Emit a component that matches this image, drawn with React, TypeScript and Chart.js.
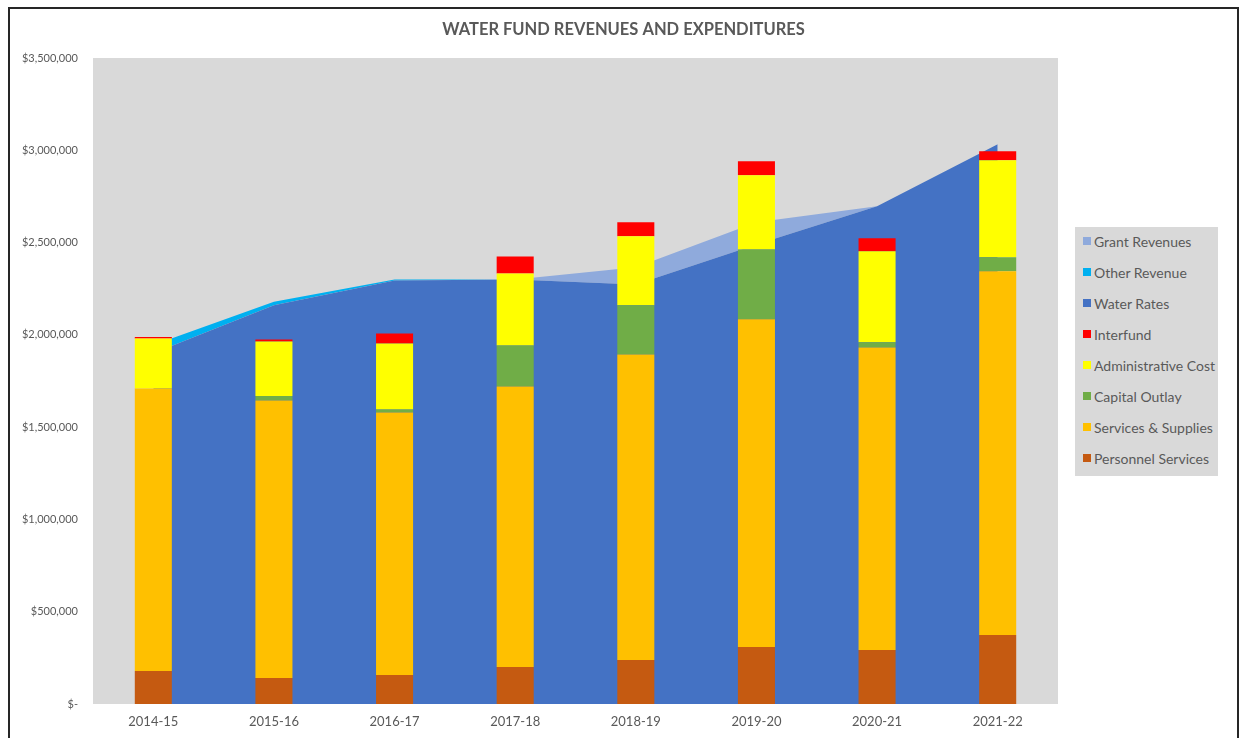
import React, { useEffect, useRef } from 'react';
import { Chart, registerables } from 'chart.js';

Chart.register(...registerables);

const categories = ['2014-15', '2015-16', '2016-17', '2017-18', '2018-19', '2019-20', '2020-21', '2021-22'];

// Expenditures (stacked bars)
const personnelServices = [179000, 141000, 157000, 200000, 239000, 309000, 293000, 374000];
const servicesSupplies = [1530000, 1503000, 1422000, 1520000, 1655000, 1775000, 1639000, 1970000];
const capitalOutlay = [0, 25000, 16000, 222000, 266000, 379000, 28000, 76000];
const administrativeCost = [271000, 295000, 358000, 391000, 374000, 402000, 493000, 526000];
const interfund = [8000, 11000, 55000, 92000, 76000, 76000, 70000, 49000];

// Revenues (stacked areas)
const waterRates = [1900000, 2160000, 2295000, 2300000, 2273000, 2490000, 2697000, 3033000];
const otherRevenue = [45000, 20000, 5000, 0, 0, 0, 0, 0];
const grantRevenues = [0, 0, 0, 0, 93000, 120000, 0, 0];

const yTicks = [0, 500000, 1000000, 1500000, 2000000, 2500000, 3000000, 3500000];

const FONT = 'Lato, "Liberation Sans", sans-serif';
const TEXT = '#595959';

const bgPlugin = {
  id: 'plotBg',
  beforeDraw(chart: any) {
    const { ctx, chartArea } = chart;
    ctx.save();
    ctx.fillStyle = '#D9D9D9';
    ctx.fillRect(chartArea.left, chartArea.top, chartArea.right - chartArea.left, chartArea.bottom - chartArea.top);
    ctx.restore();
  },
};

const barSets = [
  { label: 'Personnel Services', data: personnelServices, color: '#C55A11' },
  { label: 'Services & Supplies', data: servicesSupplies, color: '#FFC000' },
  { label: 'Capital Outlay', data: capitalOutlay, color: '#70AD47' },
  { label: 'Administrative Cost', data: administrativeCost, color: '#FFFF00' },
  { label: 'Interfund', data: interfund, color: '#FF0000' },
];
const areaSets = [
  { label: 'Water Rates', data: waterRates, color: '#4472C4' },
  { label: 'Other Revenue', data: otherRevenue, color: '#00B0F0' },
  { label: 'Grant Revenues', data: grantRevenues, color: '#8FAADC' },
];

const legendItems = [...barSets, ...areaSets].reverse();

export default function App() {
  const ref = useRef<HTMLCanvasElement | null>(null);

  useEffect(() => {
    if (!ref.current) return;
    const datasets: any[] = [];
    barSets.forEach((s) => {
      datasets.push({
        type: 'bar',
        label: s.label,
        data: s.data,
        backgroundColor: s.color,
        borderWidth: 0,
        stack: 'exp',
        order: 1,
        barPercentage: 0.307,
        categoryPercentage: 1,
      });
    });
    areaSets.forEach((s, i) => {
      datasets.push({
        type: 'line',
        label: s.label,
        data: s.data,
        backgroundColor: s.color,
        borderColor: s.color,
        borderWidth: 0,
        pointRadius: 0,
        tension: 0,
        fill: i === 0 ? 'origin' : '-1',
        stack: 'rev',
        order: 2,
      });
    });

    const chart = new Chart(ref.current, {
      type: 'bar',
      data: { labels: categories, datasets },
      plugins: [bgPlugin],
      options: {
        responsive: false,
        animation: false,
        events: [],
        layout: { padding: 0 },
        plugins: {
          legend: { display: false },
          tooltip: { enabled: false },
          title: {
            display: true,
            text: 'WATER FUND REVENUES AND EXPENDITURES',
            color: TEXT,
            font: { family: FONT, size: 16.5, weight: 'bold' },
            padding: { top: 11, bottom: 18.2 },
          },
        },
        scales: {
          x: {
            stacked: true,
            offset: true,
            grid: { display: false, drawTicks: false, tickLength: 0 },
            border: { display: false },
            ticks: { color: TEXT, font: { family: FONT, size: 13 }, padding: 10 },
            afterFit(s: any) { s.height = 34; },
          },
          y: {
            stacked: true,
            min: 0,
            max: 3500000,
            grid: { display: false, drawTicks: false, tickLength: 0 },
            border: { display: false },
            afterBuildTicks(s: any) { s.ticks = yTicks.map((v) => ({ value: v })); },
            ticks: {
              color: TEXT,
              font: { family: FONT, size: 11 },
              padding: 15,
              callback: (v: any) => (Number(v) === 0 ? '$-' : '$' + Number(v).toLocaleString('en-US')),
            },
            afterFit(s: any) { s.width = 83; },
          },
          y2: {
            position: 'right',
            display: true,
            grid: { display: false, drawTicks: false, tickLength: 0 },
            border: { display: false },
            ticks: { display: false },
            afterFit(s: any) { s.width = 179; },
          },
        },
      } as any,
    });
    return () => chart.destroy();
  }, []);

  return (
    <div style={{ position: 'fixed', left: 0, top: 0, width: 1244, height: 738, background: '#fff', overflow: 'hidden' }}>
      <div
        style={{
          position: 'absolute', left: 8, top: 7, width: 1227, height: 731,
          borderLeft: '2px solid #262626', borderTop: '2px solid #262626', borderRight: '2px solid #262626',
        }}
      />
      <canvas
        ref={ref}
        width={1227}
        height={729}
        style={{ position: 'absolute', left: 10, top: 9, width: 1227, height: 729 }}
      />
      <div
        style={{
          position: 'absolute', left: 1075, top: 227, width: 143, height: 249,
          background: '#D9D9D9', fontFamily: FONT, fontSize: 14, color: TEXT,
        }}
      >
        {legendItems.map((it, i) => (
          <div key={it.label} style={{ position: 'absolute', left: 8, top: 5 + 31 * i, height: 18, lineHeight: '18px', whiteSpace: 'nowrap' }}>
            <span style={{ display: 'inline-block', width: 8, height: 8, background: it.color, marginRight: 3, verticalAlign: 'middle', position: 'relative', top: -1 }} />
            <span style={{ verticalAlign: 'middle' }}>{it.label}</span>
          </div>
        ))}
      </div>
    </div>
  );
}
